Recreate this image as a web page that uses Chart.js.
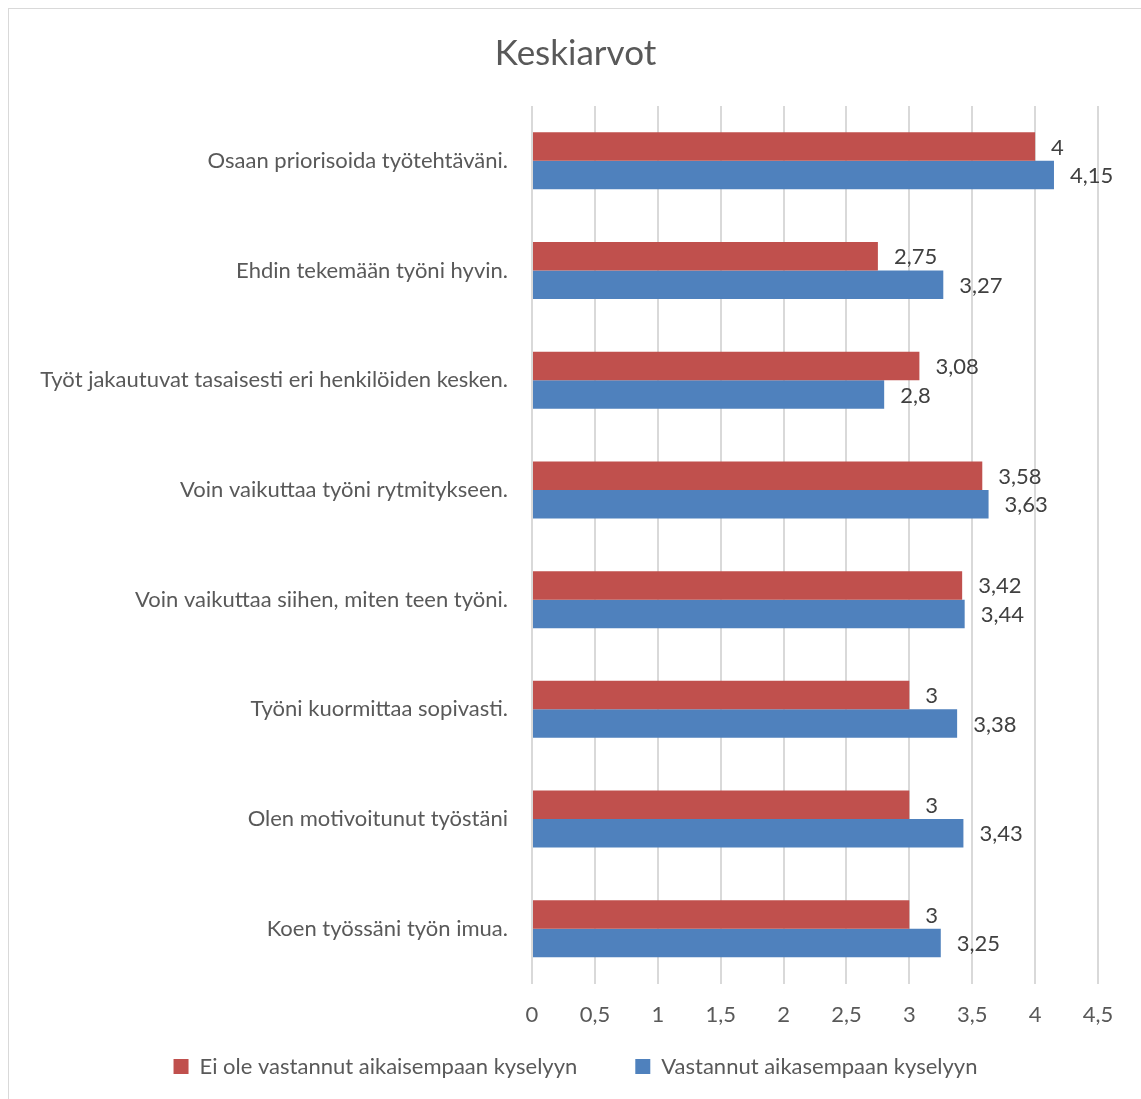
<!DOCTYPE html>
<html lang="fi">
  <head>
    <meta charset="UTF-8" />
    <title>Keskiarvot</title>
  </head>
  <style>
    * {
      margin: 0;
      padding: 0;
    }
    body {
      background: #ffffff;
      overflow: hidden;
    }
    .frame {
      position: absolute;
      left: 8px;
      top: 8px;
      width: 1150px;
      height: 1110px;
      border: 1px solid #d9d9d9;
    }
    .chartBox {
      position: absolute;
      left: 0;
      top: 0;
      width: 1141px;
      height: 1099px;
    }
  </style>
  <body>
    <div class="frame"></div>
    <div class="chartBox">
      <canvas id="myChart"></canvas>
    </div>

    <script src="https://cdn.jsdelivr.net/npm/chart.js"></script>

    <script>
      // data block
      const categories = [
        "Osaan priorisoida työtehtäväni.",
        "Ehdin tekemään työni hyvin.",
        "Työt jakautuvat tasaisesti eri henkilöiden kesken.",
        "Voin vaikuttaa työni rytmitykseen.",
        "Voin vaikuttaa siihen, miten teen työni.",
        "Työni kuormittaa sopivasti.",
        "Olen motivoitunut työstäni",
        "Koen työssäni työn imua."
      ];
      const notAnswered = [4, 2.75, 3.08, 3.58, 3.42, 3, 3, 3];
      const answered = [4.15, 3.27, 2.8, 3.63, 3.44, 3.38, 3.43, 3.25];
      const seriesNames = [
        "Ei ole vastannut aikaisempaan kyselyyn",
        "Vastannut aikasempaan kyselyyn"
      ];
      const xTicks = [0, 0.5, 1, 1.5, 2, 2.5, 3, 3.5, 4, 4.5];

      const fontName = "Lato, sans-serif";
      const textSize = 22;
      const legendGap = 58;
      const fi = (v) => String(v).replace(".", ",");

      const data = {
        labels: categories,
        datasets: [
          {
            label: seriesNames[0],
            data: notAnswered,
            backgroundColor: "#C0504D"
          },
          {
            label: seriesNames[1],
            data: answered,
            backgroundColor: "#4F81BD"
          }
        ]
      };

      // value labels at the end of each bar
      const valueLabels = {
        id: "valueLabels",
        afterDatasetsDraw: function (chart) {
          const { ctx } = chart;
          ctx.save();
          ctx.font = `${textSize}px ${fontName}`;
          ctx.fillStyle = "#404040";
          ctx.textAlign = "left";
          ctx.textBaseline = "middle";
          chart.data.datasets.forEach((ds, i) => {
            chart.getDatasetMeta(i).data.forEach((bar, j) => {
              ctx.fillText(fi(ds.data[j]), bar.x + 16, bar.y + 1);
            });
          });
          ctx.restore();
        }
      };

      // legend needs wide gaps between items but little height
      const legendPlace = {
        id: "legendPlace",
        beforeInit: function (chart) {
          const legend = chart.legend;
          const fit = legend.fit;
          legend.fit = function () {
            fit.call(this);
            this.height = 37;
          };
        },
        beforeDraw: function (chart) {
          chart.legend.top = chart.chartArea.bottom + 84 - legendGap - 12;
        }
      };

      // config block
      const config = {
        type: "bar",
        data,
        options: {
          indexAxis: "y",
          responsive: true,
          maintainAspectRatio: false,
          animation: false,
          categoryPercentage: 0.52,
          barPercentage: 1,
          layout: {
            padding: { left: 10, right: 0, top: 0, bottom: 16 }
          },
          scales: {
            x: {
              min: 0,
              max: 4.5,
              afterBuildTicks: (scale) => {
                scale.ticks = xTicks.map((v) => ({ value: v }));
              },
              grid: {
                color: "#d9d9d9",
                lineWidth: 2,
                drawTicks: false
              },
              border: { display: false },
              ticks: {
                padding: 18,
                color: "#595959",
                font: { family: fontName, size: textSize },
                callback: (v) => fi(v)
              }
            },
            y: {
              afterFit: (scale) => {
                scale.width = 522;
              },
              grid: { display: false, drawTicks: false },
              border: { display: false },
              ticks: {
                padding: 24,
                color: "#595959",
                font: { family: fontName, size: textSize }
              }
            },
            yRight: {
              type: "category",
              position: "right",
              afterFit: (scale) => {
                scale.width = 43;
              },
              grid: { display: false, drawTicks: false },
              border: { display: false },
              ticks: { display: false }
            }
          },
          plugins: {
            title: {
              display: true,
              text: "Keskiarvot",
              color: "#595959",
              font: { family: fontName, size: 35, weight: "normal" },
              padding: { top: 33, bottom: 31 }
            },
            legend: {
              position: "bottom",
              labels: {
                boxWidth: 15,
                boxHeight: 15,
                padding: legendGap,
                color: "#595959",
                font: { family: fontName, size: textSize }
              }
            },
            tooltip: { enabled: false }
          }
        },
        plugins: [valueLabels, legendPlace]
      };

      // init render block
      const myChart = new Chart(document.getElementById("myChart"), config);
    </script>
  </body>
</html>
